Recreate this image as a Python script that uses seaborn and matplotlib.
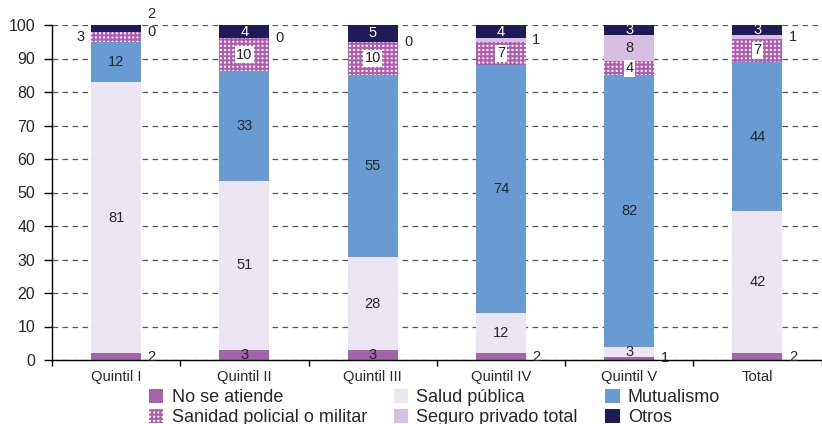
import numpy as np
import pandas as pd
import matplotlib
matplotlib.use("Agg")
import matplotlib.pyplot as plt
from matplotlib.patches import Patch
from matplotlib.ticker import FixedLocator, NullFormatter
import seaborn as sns

categories = ["Quintil I", "Quintil II", "Quintil III", "Quintil IV", "Quintil V", "Total"]
no_se_atiende = [2, 3, 3, 2, 1, 2]
salud_publica = [81, 51, 28, 12, 3, 42]
mutualismo = [12, 33, 55, 74, 82, 44]
sanidad = [3, 10, 10, 7, 4, 7]
seguro_privado = [0, 0, 0, 1, 8, 1]
otros = [2, 4, 5, 4, 3, 3]
series_names = ["No se atiende", "Salud pública", "Mutualismo",
                "Sanidad policial o militar", "Seguro privado total", "Otros"]

sns.set_theme(style="white")
plt.rcParams["font.family"] = ["Liberation Sans", "DejaVu Sans"]
plt.rcParams["hatch.linewidth"] = 1.5

colors = ["#a066a8", "#ece6f3", "#679bd2", "#b15cb0", "#d6bfe0", "#1f1b58"]
# sanidad drawn as white face with thick purple grid => white dots on purple
faces = ["#a066a8", "#ece6f3", "#679bd2", "#ffffff", "#d6bfe0", "#1f1b58"]
hatches = [None, None, None, "++++", None, None]

series = [no_se_atiende, salud_publica, mutualismo, sanidad, seguro_privado, otros]
vals = np.array(series, dtype=float)
totals = vals.sum(axis=0)
heights = vals / totals * 100.0
bottoms = np.vstack([np.zeros(len(categories)), np.cumsum(heights, axis=0)[:-1]])

fig = plt.figure(figsize=(8.22, 4.24), dpi=100)
ax = fig.add_axes([52 / 822, 1 - 360 / 424, 1 - 52 / 822 - 0.0005, (360 - 25) / 424])

W = 0.39
for i, name in enumerate(series_names):
    if hatches[i]:
        kw = dict(edgecolor=colors[i], linewidth=0, hatch=hatches[i])
    else:
        kw = dict(edgecolor="white", linewidth=0)
    sns.barplot(x=categories, y=heights[i], bottom=bottoms[i], color=faces[i],
                saturation=1, width=W, errorbar=None, ax=ax, order=categories, **kw)

ax.set_xlim(-0.5, len(categories) - 0.5)
ax.set_ylim(0, 100)
ax.set_yticks(np.arange(0, 101, 10))
ax.set_axisbelow(True)
ax.yaxis.grid(True, linestyle=(0, (4.5, 3.5)), color="#555555", linewidth=0.9)
ax.xaxis.grid(False)
for s in ["top", "right"]:
    ax.spines[s].set_visible(False)
for s in ["left", "bottom"]:
    ax.spines[s].set_color("black")
    ax.spines[s].set_linewidth(1.0)

ax.tick_params(axis="y", direction="out", length=6, width=1, color="black",
               labelsize=11.5, pad=6, left=True)
ax.tick_params(axis="x", which="major", length=0, labelsize=10.6, pad=7)
ax.xaxis.set_minor_locator(FixedLocator(np.arange(-0.5, len(categories), 1.0)))
ax.xaxis.set_minor_formatter(NullFormatter())
ax.tick_params(axis="x", which="minor", direction="out", length=4.5, width=1,
               color="black", bottom=True)
ax.set_xlabel("")
ax.set_ylabel("")

fs = 10.5
for j, cat in enumerate(categories):
    xr = j + W / 2 + 0.05
    for i in range(len(series_names)):
        v = int(vals[i, j])
        mid = bottoms[i, j] + heights[i, j] / 2
        name = series_names[i]
        if name == "Otros":
            if v >= 3:
                ax.text(j, mid, str(v), ha="center", va="center", color="white", fontsize=fs)
            else:
                ax.text(xr, 103.3, str(v), ha="left", va="center", fontsize=fs, clip_on=False)
        elif name == "Seguro privado total":
            if v >= 3:
                ax.text(j, mid, str(v), ha="center", va="center", fontsize=fs)
            else:
                ax.text(xr, mid, str(v), ha="left", va="center", fontsize=fs)
        elif name == "Sanidad policial o militar":
            if v >= 4:
                ax.text(j, mid, str(v), ha="center", va="center", fontsize=fs,
                        bbox=dict(facecolor="white", edgecolor="none", pad=1.2))
            else:
                ax.text(j - W / 2 - 0.05, mid, str(v), ha="right", va="center", fontsize=fs)
        else:
            if v >= 3:
                ax.text(j, mid, str(v), ha="center", va="center", fontsize=fs)
            else:
                ax.text(xr, mid, str(v), ha="left", va="center", fontsize=fs)

handles = []
for i, name in enumerate(series_names):
    if hatches[i]:
        handles.append(Patch(facecolor=faces[i], hatch=hatches[i], edgecolor=colors[i],
                             linewidth=0, label=name))
    else:
        handles.append(Patch(facecolor=faces[i], edgecolor="white", linewidth=0, label=name))
order = [0, 3, 1, 4, 2, 5]
fig.legend([handles[k] for k in order], [series_names[k] for k in order], ncol=3,
           loc="upper left", bbox_to_anchor=(149 / 822, 1 - 389 / 424), frameon=False,
           fontsize=13, handlelength=0.8, handleheight=0.8, handletextpad=0.45,
           columnspacing=1.5, labelspacing=0.15, borderpad=0, borderaxespad=0)

fig.savefig("out.png", dpi=100)
